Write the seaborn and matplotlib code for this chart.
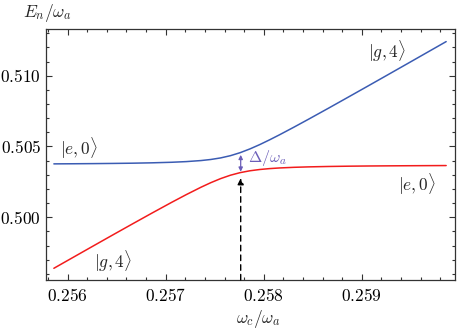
import matplotlib
matplotlib.use("Agg")
import matplotlib.pyplot as plt
import numpy as np
import pandas as pd
import seaborn as sns
from matplotlib.ticker import FuncFormatter, MultipleLocator

# cavity frequency omega_c / omega_a
omega = [
    0.25586, 0.25606, 0.25626, 0.25646, 0.25666, 0.25686, 0.25706,
    0.25721, 0.25736, 0.25746, 0.25756, 0.25766, 0.25776, 0.25786,
    0.25796, 0.25806, 0.25816, 0.25831, 0.25846, 0.25866, 0.25886,
    0.25906, 0.25926, 0.25946, 0.25966, 0.25986,
]
# upper branch (blue), E_n / omega_a
upper = [
    0.503773, 0.503781, 0.503791, 0.503804, 0.503821, 0.503847, 0.503886,
    0.503933, 0.504007, 0.504083, 0.504193, 0.504351, 0.504565, 0.504831,
    0.505137, 0.505472, 0.505824, 0.506374, 0.506939, 0.507705, 0.508481,
    0.509261, 0.510045, 0.510831, 0.511620, 0.512409,
]
# lower branch (red), E_n / omega_a
lower = [
    0.496398, 0.497184, 0.497969, 0.498751, 0.499527, 0.500296, 0.501052,
    0.501601, 0.502123, 0.502444, 0.502731, 0.502971, 0.503155, 0.503286,
    0.503376, 0.503439, 0.503484, 0.503530, 0.503561, 0.503589, 0.503609,
    0.503623, 0.503633, 0.503641, 0.503648, 0.503654,
]

x_ticks = [0.256, 0.257, 0.258, 0.259]
y_ticks = [0.500, 0.505, 0.510]

# resonance marker and gap
omega_res = 0.257765
gap_top = 0.50441
gap_bottom = 0.50322
arrow_tip = 0.50276

BLUE = "#3b5cb3"
RED = "#f21c1c"
PURPLE = "#6a5db8"

sns.set_theme(style="ticks")
plt.rcParams.update({
    "font.family": ["DejaVu Serif"],
    "mathtext.fontset": "cm",
    "axes.edgecolor": "#333333",
    "axes.linewidth": 0.9,
    "xtick.direction": "in",
    "ytick.direction": "in",
    "xtick.top": True,
    "ytick.right": True,
    "xtick.major.size": 4,
    "ytick.major.size": 4,
    "xtick.minor.size": 2,
    "ytick.minor.size": 2,
    "xtick.minor.visible": True,
    "ytick.minor.visible": True,
})

df = pd.DataFrame({"omega": omega, "upper": upper, "lower": lower})

fig = plt.figure(figsize=(4.57, 3.29), dpi=100)
ax = fig.add_axes([0.1007, 0.1489, 0.8949, 0.763])

sns.lineplot(data=df, x="omega", y="upper", color=BLUE, lw=1.1, ax=ax)
sns.lineplot(data=df, x="omega", y="lower", color=RED, lw=1.1, ax=ax)

ax.set_xlim(0.25578, 0.25995)
ax.set_ylim(0.49557, 0.51330)
ax.set_xticks(x_ticks)
ax.set_yticks(y_ticks)
ax.xaxis.set_minor_locator(MultipleLocator(0.0002))
ax.yaxis.set_minor_locator(MultipleLocator(0.001))
fmt = FuncFormatter(lambda v, pos: f"${v:.3f}$")
ax.xaxis.set_major_formatter(fmt)
ax.yaxis.set_major_formatter(fmt)
ax.tick_params(which="both", colors="#333333", labelcolor="black",
               labelsize=12.5, width=0.8)
ax.tick_params(axis="x", pad=6)
ax.set_xlabel("")
ax.set_ylabel("")

fig.text(47 / 457, 1 - 13 / 329, r"$E_n/\omega_a$", fontsize=12.5,
         ha="center", va="center")
fig.text(258 / 457, 1 - 319 / 329, r"$\omega_c/\omega_a$", fontsize=12.5,
         ha="center", va="center")

# state labels
ax.text(0.25592, 0.50486, r"$|e,0\rangle$", fontsize=12.5, va="center")
ax.text(0.25906, 0.51171, r"$|g,4\rangle$", fontsize=12.5, va="center")
ax.text(0.25937, 0.50236, r"$|e,0\rangle$", fontsize=12.5, va="center")
ax.text(0.25627, 0.49689, r"$|g,4\rangle$", fontsize=12.5, va="center")

# resonance arrow
ax.annotate("", xy=(omega_res, arrow_tip), xytext=(omega_res, 0.49557),
            arrowprops=dict(arrowstyle="-|>", color="black", lw=1.0,
                            ls=(0, (4, 3)), mutation_scale=9,
                            shrinkA=0, shrinkB=0))
# gap arrow
ax.annotate("", xy=(omega_res, gap_bottom), xytext=(omega_res, gap_top),
            arrowprops=dict(arrowstyle="<|-|>", color=PURPLE, lw=0.9,
                            mutation_scale=6, shrinkA=0, shrinkB=0))
ax.text(omega_res + 0.00007, 0.50422, r"$\Delta/\omega_a$", fontsize=11.5,
        color=PURPLE, va="center")

fig.savefig("out.png", dpi=100)
